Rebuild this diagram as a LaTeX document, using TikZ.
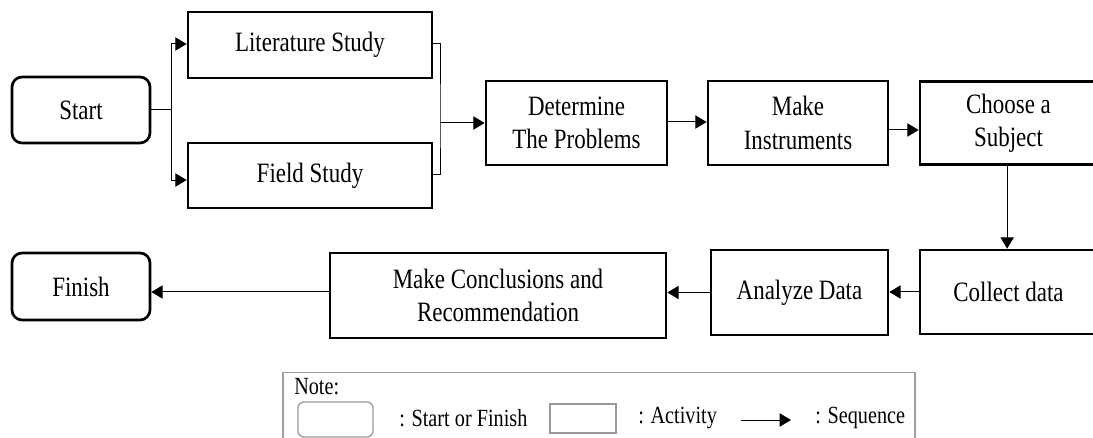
\documentclass[tikz,border=0pt]{standalone}
\usepackage{fontspec}
\setmainfont{Liberation Serif}[FakeStretch=0.82]
\usetikzlibrary{arrows.meta,positioning}

\tikzset{
	activity/.style = {draw, line width = 2pt, inner sep = 0pt, align = center,
		font = \fontsize{21}{25}\selectfont},
	terminal/.style = {activity, rounded corners = 7.5pt},
	seq/.style = {line width = 0.75pt, -{Triangle[length = 8.5pt, width = 10pt]}},
	link/.style = {line width = 0.75pt},
	notetext/.style = {anchor = west, inner sep = 0pt, font = \fontsize{18.5}{22}\selectfont},
	noteicon/.style = {draw = gray!80, line width = 1pt, inner sep = 0pt}
}

\begin{document}
\begin{tikzpicture}[x = 0.75pt, y = -0.75pt]

	\useasboundingbox (0,0) rectangle (1093,438);
	\clip (0,0) rectangle (1093,438);

	% first row
	\node[terminal, minimum width = 103.5pt, minimum height = 49.5pt] (start) at (81,110) {Start};
	\node[activity, minimum width = 183pt, minimum height = 49.5pt] (lit) at (310,45) {Literature Study};
	\node[activity, minimum width = 183pt, minimum height = 48.75pt] (field) at (310,175.5) {Field Study};
	\node[activity, minimum width = 135.75pt, minimum height = 63pt] (problems) at (576.5,123) {Determine\\The Problems};
	\node[activity, minimum width = 135pt, minimum height = 63pt] (instruments) at (798,123) {Make\\Instruments};
	\node[activity, minimum width = 132.75pt, minimum height = 62.25pt] (subject) at (1008.5,123) {Choose a\\Subject};

	% second row
	\node[activity, minimum width = 132.75pt, minimum height = 63pt] (collect) at (1008.5,292) {Collect data};
	\node[activity, minimum width = 132.75pt, minimum height = 63.75pt] (analyze) at (799.5,292.5) {Analyze Data};
	\node[activity, minimum width = 252pt, minimum height = 63.75pt] (conclude) at (498,295.5) {Make Conclusions and\\Recommendation};
	\node[terminal, minimum width = 103.5pt, minimum height = 50.25pt] (finish) at (81,286.5) {Finish};

	% connectors
	\coordinate (fork) at (171,110);
	\coordinate (join) at (440,123);
	\draw[link] (start.east) -- (fork);
	\draw[seq] (fork) |- ([yshift = 0.75pt]lit.west);
	\draw[seq] (fork) |- ([yshift = -3.4pt]field.west);
	\draw[link] ([yshift = 0.75pt]lit.east) -| (join) |- ([yshift = 1pt]field.east);
	\draw[seq] (join) -- (problems.west);
	\draw[seq] ([yshift = 0.75pt]problems.east) -- ([yshift = 0.75pt]instruments.west);
	\draw[seq] ([yshift = -5.25pt]instruments.east) -- ([yshift = -5.25pt]subject.west);
	\draw[seq] ([xshift = -1pt]subject.south) -- ([xshift = -1pt]collect.north);
	\draw[seq] (collect.west) -- (collect.west -| analyze.east);
	\draw[seq] (analyze.west) -- (analyze.west -| conclude.east);
	\draw[seq] (conclude.west |- collect.west) -- (collect.west -| finish.east);

	% note
	\node[draw = gray!75, line width = 0.8pt, minimum width = 474pt, minimum height = 54pt, inner sep = 0pt] (note) at (599,408.5) {};
	\node[notetext] (notelabel) at (294,387) {Note:};
	\node[noteicon, rounded corners = 4.5pt, minimum width = 56.25pt, minimum height = 26.25pt] (roundicon) at (335.5,419.5) {};
	\node[notetext] (roundtext) at (399,418) {: Start or Finish};
	\node[noteicon, minimum width = 49.5pt, minimum height = 21.75pt] (boxicon) at (583,418.5) {};
	\node[notetext] (boxtext) at (638,418) {: Activity};
	\coordinate (seqfrom) at (741,420);
	\coordinate (seqto) at (791,420);
	\draw[seq] (seqfrom) -- (seqto);
	\node[notetext] (seqtext) at (815,418) {: Sequence};

\end{tikzpicture}
\end{document}
